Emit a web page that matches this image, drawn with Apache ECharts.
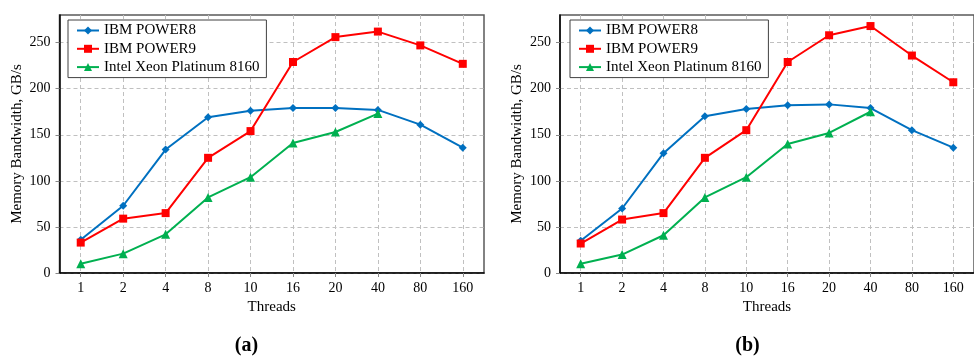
<!DOCTYPE html>
<html><head><meta charset="utf-8">
<script src="https://cdn.jsdelivr.net/npm/echarts@6/dist/echarts.min.js"></script>
<style>html,body{margin:0;padding:0;background:#fff}#c{width:974px;height:359px}</style>
</head><body><div id="c"></div><script>
const threads = ['1','2','4','8','10','16','20','40','80','160'];
const yTicks = [0,50,100,150,200,250];
const seriesNames = ['IBM POWER8','IBM POWER9','Intel Xeon Platinum 8160'];
const power8A = [36,73,134,169,176,179,179,177,161,136];
const power9A = [33,59,65,125,154,229,256,262,247,227];
const xeonA = [10,21,42,82,104,141,153,173,null,null];
const power8B = [35,70,130,170,178,182,183,179,155,136];
const power9B = [32,58,65,125,155,229,258,268,236,207];
const xeonB = [10,20,41,82,104,140,152,175,null,null];
const panelTitles = ['(a)','(b)'];
const yName = 'Memory Bandwidth, GB/s';
const xName = 'Threads';

const FONT = 'Liberation Serif';
const colors = ['#0070C0','#FF0000','#00B050'];
const symbols = ['diamond','rect','triangle'];
const symSizes = [8,8,9];
const gridLefts = [59.5,560];
const legendLefts = [68,570];
const titleX = [246.5,747.5];

const chart = echarts.init(document.getElementById('c'), null, {renderer:'canvas'});
const panels = [[power8A,power9A,xeonA],[power8B,power9B,xeonB]];

const grids = [0,1].map(i => ({
  left: gridLefts[i], top: 15, width: 424.5, height: 258,
  show: true, borderColor: '#595959', borderWidth: 1.5, backgroundColor: 'transparent'
}));
const xAxes = [0,1].map(i => ({
  type: 'category', gridIndex: i, data: threads, boundaryGap: true,
  name: xName, nameLocation: 'middle', nameGap: 27,
  nameTextStyle: {fontFamily: FONT, fontSize: 15, color: '#000'},
  axisLine: {lineStyle: {color: '#000', width: 1.5}},
  axisTick: {show: true, alignWithLabel: true, length: 4, lineStyle: {color: '#888'}},
  axisLabel: {fontFamily: FONT, fontSize: 14, color: '#000', margin: 8},
  splitLine: {show: true, alignWithLabel: true, lineStyle: {color: '#c0c0c0', type: [4,3], width: 1}}
}));
const yAxes = [0,1].map(i => ({
  type: 'value', gridIndex: i, min: 0, max: 280, interval: 50,
  name: yName, nameLocation: 'middle', nameGap: 35,
  nameTextStyle: {fontFamily: FONT, fontSize: 15, color: '#000'},
  axisLine: {show: true, lineStyle: {color: '#000', width: 1.5}},
  axisTick: {show: true, length: 4, customValues: yTicks, lineStyle: {color: '#888'}},
  axisLabel: {fontFamily: FONT, fontSize: 14, color: '#000', margin: 9, customValues: yTicks},
  splitLine: {show: true, lineStyle: {color: '#c0c0c0', type: [4,3], width: 1}}
}));
const series = [];
[0,1].forEach(p => {
  panels[p].forEach((vals, k) => {
    series.push({
      type: 'line', name: seriesNames[k], xAxisIndex: p, yAxisIndex: p,
      data: vals, symbol: symbols[k], symbolSize: symSizes[k], showAllSymbol: true,
      connectNulls: false, animation: false,
      itemStyle: {color: colors[k]}, lineStyle: {color: colors[k], width: 2}
    });
  });
});
const legends = [0,1].map(i => ({
  data: seriesNames, orient: 'vertical', left: legendLefts[i], top: 20,
  backgroundColor: '#fff', borderColor: '#404040', borderWidth: 1, borderRadius: 0,
  padding: [3,7,3,8], itemGap: 3.3, itemWidth: 22, itemHeight: 10,
  textStyle: {fontFamily: FONT, fontSize: 15, color: '#000', lineHeight: 15}
}));
chart.setOption({
  animation: false,
  backgroundColor: '#fff',
  grid: grids, xAxis: xAxes, yAxis: yAxes, series: series, legend: legends,
  graphic: [0,1].map(i => ({
    type: 'text', x: titleX[i], y: 346,
    style: {text: panelTitles[i], textAlign: 'center', textVerticalAlign: 'middle',
      fontFamily: FONT, fontSize: 20, fontWeight: 'bold', fill: '#000'}
  }))
});
</script></body></html>
